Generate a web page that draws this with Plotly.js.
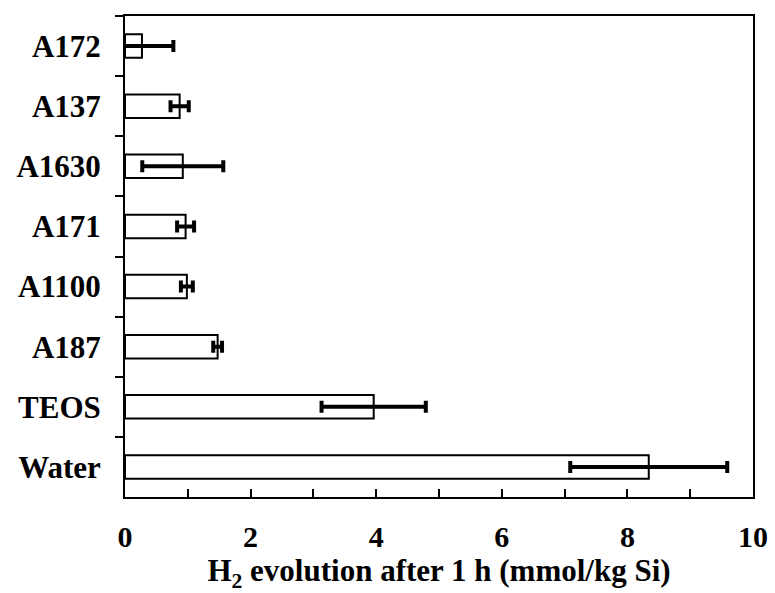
<!DOCTYPE html>
<html>
<head>
<meta charset="utf-8">
<script src="https://cdn.plot.ly/plotly-3.0.1.min.js"></script>
<style>html,body{margin:0;padding:0;background:#fff;}#chart{width:775px;height:593px;}</style>
</head>
<body>
<div id="chart"></div>
<script>
const categories = ["A172", "A137", "A1630", "A171", "A1100", "A187", "TEOS", "Water"];
const h2Values = [0.27, 0.87, 0.92, 0.965, 0.985, 1.475, 3.96, 8.34];
const h2Errors = [0.5, 0.145, 0.645, 0.135, 0.095, 0.07, 0.83, 1.25];
const xTickVals = [0, 2, 4, 6, 8, 10];
const xTickText = ["0", "2", "4", "6", "8", "10"];

const font = "'Liberation Serif', 'Times New Roman', serif";

const trace = {
  type: "bar",
  orientation: "h",
  y: categories,
  x: h2Values,
  marker: {color: "#ffffff", line: {color: "#000000", width: 2}},
  error_x: {type: "data", array: h2Errors, visible: true, color: "#000000", thickness: 4, width: 6},
  hoverinfo: "x+y"
};

const layout = {
  width: 775, height: 593,
  margin: {l: 125, r: 22, t: 16, b: 96},
  paper_bgcolor: "#ffffff", plot_bgcolor: "#ffffff",
  showlegend: false,
  bargap: 0.61,
  font: {family: font, color: "#000000"},
  xaxis: {
    range: [0, 10],
    tickmode: "array",
    tickvals: xTickVals, ticktext: xTickText,
    ticks: "inside", ticklen: 8, tickwidth: 2, tickcolor: "#000",
    minor: {dtick: 1, tick0: 0, ticks: "inside", ticklen: 8, tickwidth: 2, tickcolor: "#000", showgrid: false},
    ticklabelstandoff: 12,
    showline: true, linewidth: 2, linecolor: "#000", mirror: true,
    showgrid: false, zeroline: false,
    tickfont: {family: font, size: 30, weight: "bold"},
    title: {text: "<b>H<sub>2</sub> evolution after 1 h (mmol/kg Si)</b>", font: {family: font, size: 31}, standoff: 9}
  },
  yaxis: {
    type: "category",
    autorange: "reversed",
    tickson: "boundaries",
    ticks: "outside", ticklen: 8, tickwidth: 2, tickcolor: "#000",
    ticklabelstandoff: 16,
    showline: true, linewidth: 2, linecolor: "#000", mirror: true,
    showgrid: false, zeroline: false,
    tickfont: {family: font, size: 31, weight: "bold"}
  }
};

Plotly.newPlot("chart", [trace], layout, {displayModeBar: false, staticPlot: true});
</script>
</body>
</html>
